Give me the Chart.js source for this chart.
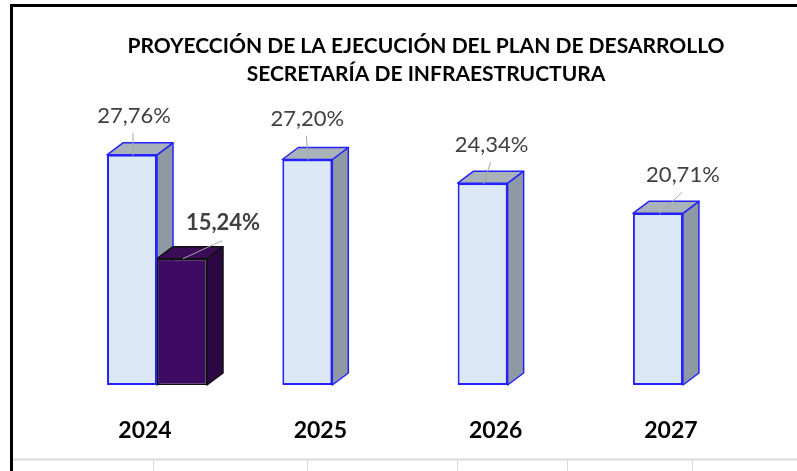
<!DOCTYPE html>
<html>
<head>
<meta charset="utf-8">
<script src="https://cdn.jsdelivr.net/npm/chart.js@4.4.1/dist/chart.umd.min.js"></script>
<style>
    html, body { margin: 0; padding: 0; background: #ffffff; }
    canvas { display: block; }
</style>
</head>
<body>
<canvas id="grafico" width="797" height="471"></canvas>
<script>
// datos del gráfico
const anios = ["2024", "2025", "2026", "2027"];
const proyeccion = [27.76, 27.20, 24.34, 20.71];
const ejecucion = [15.24, null, null, null];
const titulo = [
    "PROYECCIÓN DE LA EJECUCIÓN DEL PLAN DE DESARROLLO",
    "SECRETARÍA DE INFRAESTRUCTURA"
];

// profundidad del efecto 3D
const PROF_X = 16;
const PROF_Y = 12;

// desplazamiento de cada etiqueta respecto al centro superior de la barra
const desplEtiquetas = [
    [[2, -39], [0, -41], [9, -38], [25, -38]],
    [[41, -36]]
];

const estilos3D = [
    { lado: "#8f99a3", tapa: "#a9b1b9", borde: "#2323ff" },
    { lado: "#2b0844", tapa: "#3a0c58", borde: "#111111" }
];

function formatoPct(v) {
    return v.toFixed(2).replace(".", ",") + "%";
}

const pluginMarco = {
    id: "marco",
    beforeDraw(chart) {
        const ctx = chart.ctx;
        ctx.save();
        ctx.fillStyle = "#ffffff";
        ctx.fillRect(0, 0, chart.width, chart.height);

        // cuadrícula de la hoja
        ctx.strokeStyle = "#d9d9d9";
        ctx.lineWidth = 2;
        ctx.beginPath();
        ctx.moveTo(13, 459.5);
        ctx.lineTo(chart.width, 459.5);
        ctx.stroke();
        ctx.lineWidth = 1;
        [153, 307, 457, 567, 692].forEach(x => {
            ctx.beginPath();
            ctx.moveTo(x + 0.5, 460);
            ctx.lineTo(x + 0.5, chart.height);
            ctx.stroke();
        });

        // borde negro del gráfico
        ctx.fillStyle = "#000000";
        ctx.fillRect(10, 4, chart.width - 10, 3);
        ctx.fillRect(10, 4, 3, chart.height - 4);

        // título
        ctx.fillStyle = "#000000";
        ctx.textAlign = "center";
        ctx.textBaseline = "middle";
        ctx.font = "bold 21px Lato";
        ctx.fillText(titulo[0], 426, 46);
        ctx.fillText(titulo[1], 426, 74);
        ctx.restore();
    }
};

const plugin3D = {
    id: "caras3d",
    beforeDatasetsDraw(chart) {
        const ctx = chart.ctx;
        ctx.save();
        chart.data.datasets.forEach((ds, di) => {
            const meta = chart.getDatasetMeta(di);
            const est = estilos3D[di];
            meta.data.forEach((el, i) => {
                if (ds.data[i] === null) return;
                const p = el.getProps(["x", "y", "base", "width"], true);
                const L = p.x - p.width / 2;
                const R = p.x + p.width / 2;
                const T = p.y;
                const B = p.base;

                ctx.lineWidth = 1.5;
                ctx.strokeStyle = est.borde;
                ctx.lineJoin = "round";

                // cara lateral
                ctx.beginPath();
                ctx.moveTo(R, T);
                ctx.lineTo(R + PROF_X, T - PROF_Y);
                ctx.lineTo(R + PROF_X, B - PROF_Y);
                ctx.lineTo(R, B);
                ctx.closePath();
                ctx.fillStyle = est.lado;
                ctx.fill();
                ctx.stroke();

                // cara superior
                ctx.beginPath();
                ctx.moveTo(L, T);
                ctx.lineTo(L + PROF_X, T - PROF_Y);
                ctx.lineTo(R + PROF_X, T - PROF_Y);
                ctx.lineTo(R, T);
                ctx.closePath();
                ctx.fillStyle = est.tapa;
                ctx.fill();
                ctx.stroke();
            });
        });
        ctx.restore();
    },
    afterDatasetsDraw(chart) {
        const ctx = chart.ctx;
        ctx.save();
        ctx.textAlign = "center";
        ctx.textBaseline = "middle";

        chart.data.datasets.forEach((ds, di) => {
            const meta = chart.getDatasetMeta(di);
            meta.data.forEach((el, i) => {
                if (ds.data[i] === null) return;
                const d = desplEtiquetas[di][i];
                const lx = el.x + d[0];
                const ly = el.y + d[1];

                // línea guía
                ctx.strokeStyle = "#a6a6a6";
                ctx.lineWidth = 1;
                ctx.beginPath();
                if (di === 0) {
                    ctx.moveTo(lx - 1, ly + 17);
                    ctx.lineTo(el.x + 1, el.y + 1);
                } else {
                    ctx.moveTo(lx - 1, ly + 18);
                    ctx.lineTo(el.x + 1, el.y);
                }
                ctx.stroke();

                ctx.fillStyle = "#404040";
                ctx.font = di === 0 ? "22px Lato" : "bold 22px Lato";
                ctx.fillText(formatoPct(ds.data[i]), lx, ly);
            });
        });

        // etiquetas de los años
        const x = chart.scales.x;
        ctx.fillStyle = "#000000";
        ctx.font = "bold 23px Lato";
        anios.forEach((a, i) => {
            ctx.fillText(a, x.getPixelForValue(i) - 12, 431);
        });
        ctx.restore();
    }
};

new Chart(document.getElementById("grafico"), {
    type: "bar",
    data: {
        labels: anios,
        datasets: [
            {
                label: "Proyección",
                data: proyeccion,
                backgroundColor: "#dce8f6",
                borderColor: "#2323ff",
                borderWidth: 2,
                borderSkipped: false
            },
            {
                label: "Ejecución",
                data: ejecucion,
                backgroundColor: "#3e0b62",
                borderColor: "#111111",
                borderWidth: 1.5,
                borderSkipped: false
            }
        ]
    },
    options: {
        responsive: false,
        animation: false,
        devicePixelRatio: 1,
        categoryPercentage: 0.5705,
        barPercentage: 1,
        layout: {
            padding: { left: 69.35, right: 26.4, top: 136.3, bottom: 86 }
        },
        plugins: {
            legend: { display: false },
            title: { display: false },
            tooltip: { enabled: false }
        },
        scales: {
            x: { display: false },
            y: { display: false, min: 0, max: 30 }
        }
    },
    plugins: [pluginMarco, plugin3D]
});
</script>
</body>
</html>
